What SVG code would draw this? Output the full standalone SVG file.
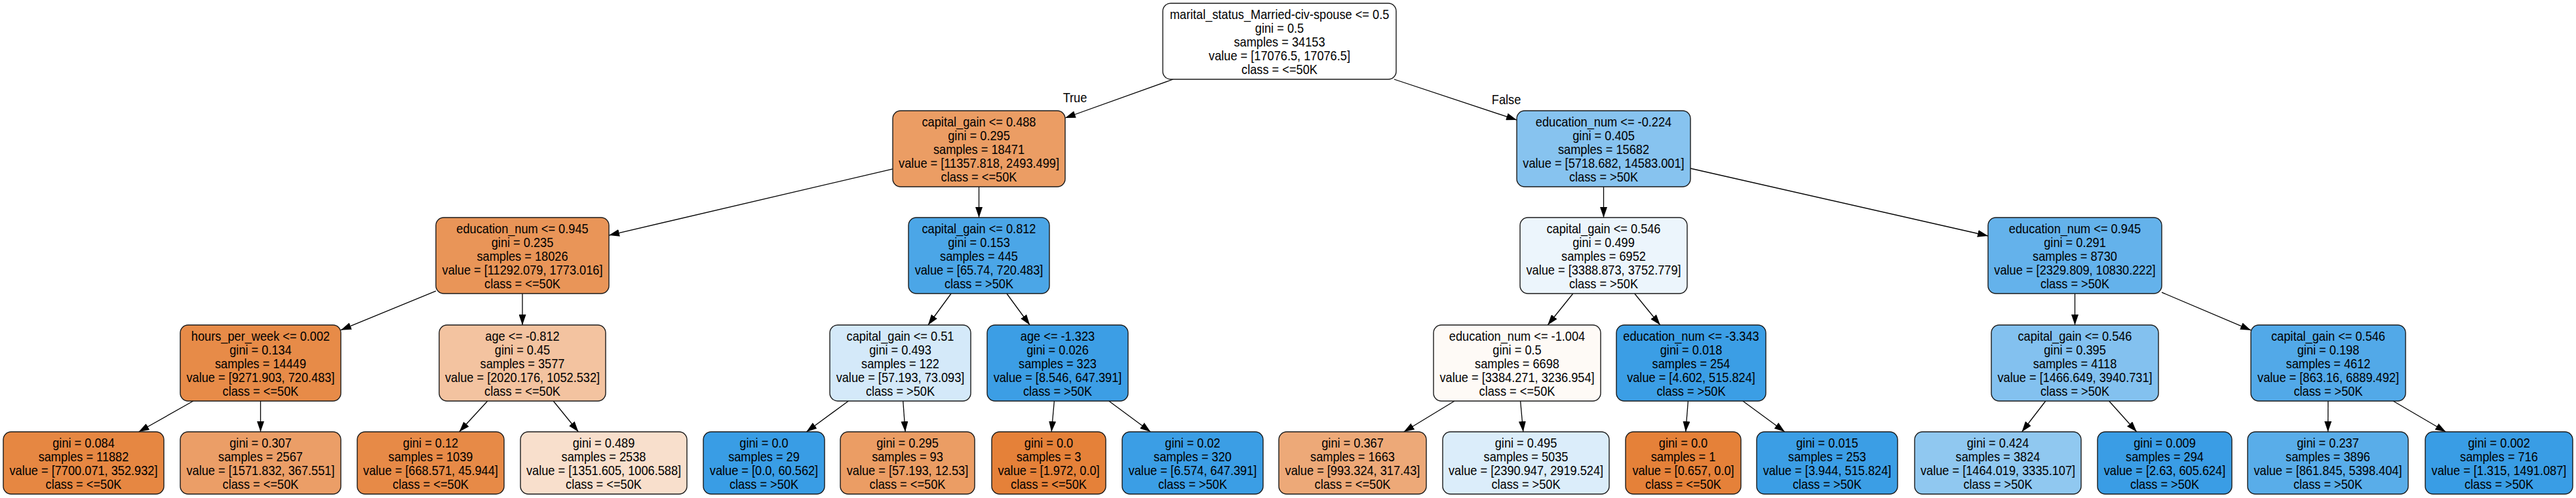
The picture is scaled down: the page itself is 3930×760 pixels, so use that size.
<svg xmlns="http://www.w3.org/2000/svg" width="3930" height="760" viewBox="0 0 3930 760">
<style>
rect{stroke:#1a1a1a;stroke-width:1.4}
text{font-family:"Liberation Sans",Arial,Helvetica,sans-serif;font-size:20px;fill:#000;text-anchor:middle}
.e line{stroke:#000;stroke-width:1.3;marker-end:url(#ah)}
</style>
<defs>
<marker id="ah" viewBox="0 0 16 11" refX="16" refY="5.5" markerWidth="16" markerHeight="11" markerUnits="userSpaceOnUse" orient="auto"><path d="M0,0 L16,5.5 L0,11 z" fill="#000"/></marker>
</defs>
<rect x="0" y="0" width="3930" height="760" fill="#fff" style="stroke:none"/>
<g id="edges" class="e">
<line x1="1789.8" y1="121" x2="1625" y2="180"/>
<line x1="2126.9" y1="121" x2="2314" y2="183.1"/>
<line x1="1362" y1="257.8" x2="929" y2="359.1"/>
<line x1="1493.5" y1="285" x2="1493.5" y2="332"/>
<line x1="2446.5" y1="285" x2="2446.5" y2="332"/>
<line x1="2579" y1="257" x2="3033" y2="360"/>
<line x1="665" y1="444.2" x2="520" y2="503.7"/>
<line x1="797" y1="448" x2="797" y2="496"/>
<line x1="1451.1" y1="448" x2="1415.9" y2="496"/>
<line x1="1535.9" y1="448" x2="1571.1" y2="496"/>
<line x1="2399.8" y1="448" x2="2361.2" y2="496"/>
<line x1="2493.7" y1="448" x2="2532.8" y2="496"/>
<line x1="3165.5" y1="448" x2="3165.5" y2="496"/>
<line x1="3298" y1="446.2" x2="3434" y2="503.9"/>
<line x1="294.8" y1="612" x2="211.6" y2="659"/>
<line x1="397.5" y1="612" x2="397.5" y2="659"/>
<line x1="743.8" y1="612" x2="700.6" y2="659"/>
<line x1="844.2" y1="612" x2="882.4" y2="659"/>
<line x1="1294.4" y1="612" x2="1230.3" y2="659"/>
<line x1="1377.7" y1="612" x2="1381.1" y2="659"/>
<line x1="1608.4" y1="612" x2="1604.2" y2="659"/>
<line x1="1691.8" y1="612" x2="1755.3" y2="659"/>
<line x1="2219" y1="612" x2="2141.7" y2="659"/>
<line x1="2319.6" y1="612" x2="2323.8" y2="659"/>
<line x1="2575.4" y1="612" x2="2571.7" y2="659"/>
<line x1="2658.9" y1="612" x2="2722.9" y2="659"/>
<line x1="3120.8" y1="612" x2="3084.6" y2="659"/>
<line x1="3217.6" y1="612" x2="3259.8" y2="659"/>
<line x1="3551.8" y1="612" x2="3551.6" y2="659"/>
<line x1="3651.1" y1="612" x2="3731.4" y2="659"/>
<text transform="translate(1640 0) scale(0.91 1)" x="0" y="156">True</text>
<text transform="translate(2298 0) scale(0.91 1)" x="0" y="159">False</text>
</g>
<g id="n0"><rect x="1774" y="5" width="356" height="116" rx="12" fill="#ffffff"/><text transform="translate(1952 0) scale(0.91 1)"><tspan x="0" y="29">marital_status_Married-civ-spouse &lt;= 0.5</tspan><tspan x="0" y="50">gini = 0.5</tspan><tspan x="0" y="71">samples = 34153</tspan><tspan x="0" y="92">value = [17076.5, 17076.5]</tspan><tspan x="0" y="113">class = &lt;=50K</tspan></text></g>
<g id="n1"><rect x="1362" y="169" width="263" height="116" rx="12" fill="#eb9d64"/><text transform="translate(1493.5 0) scale(0.91 1)"><tspan x="0" y="193">capital_gain &lt;= 0.488</tspan><tspan x="0" y="214">gini = 0.295</tspan><tspan x="0" y="235">samples = 18471</tspan><tspan x="0" y="256">value = [11357.818, 2493.499]</tspan><tspan x="0" y="277">class = &lt;=50K</tspan></text></g>
<g id="n2"><rect x="2314" y="169" width="265" height="116" rx="12" fill="#87c3ef"/><text transform="translate(2446.5 0) scale(0.91 1)"><tspan x="0" y="193">education_num &lt;= -0.224</tspan><tspan x="0" y="214">gini = 0.405</tspan><tspan x="0" y="235">samples = 15682</tspan><tspan x="0" y="256">value = [5718.682, 14583.001]</tspan><tspan x="0" y="277">class = &gt;50K</tspan></text></g>
<g id="n3"><rect x="665" y="332" width="264" height="116" rx="12" fill="#e99558"/><text transform="translate(797 0) scale(0.91 1)"><tspan x="0" y="356">education_num &lt;= 0.945</tspan><tspan x="0" y="377">gini = 0.235</tspan><tspan x="0" y="398">samples = 18026</tspan><tspan x="0" y="419">value = [11292.079, 1773.016]</tspan><tspan x="0" y="440">class = &lt;=50K</tspan></text></g>
<g id="n4"><rect x="1386" y="332" width="215" height="116" rx="12" fill="#4ba6e7"/><text transform="translate(1493.5 0) scale(0.91 1)"><tspan x="0" y="356">capital_gain &lt;= 0.812</tspan><tspan x="0" y="377">gini = 0.153</tspan><tspan x="0" y="398">samples = 445</tspan><tspan x="0" y="419">value = [65.74, 720.483]</tspan><tspan x="0" y="440">class = &gt;50K</tspan></text></g>
<g id="n5"><rect x="2319" y="332" width="255" height="116" rx="12" fill="#ecf5fc"/><text transform="translate(2446.5 0) scale(0.91 1)"><tspan x="0" y="356">capital_gain &lt;= 0.546</tspan><tspan x="0" y="377">gini = 0.499</tspan><tspan x="0" y="398">samples = 6952</tspan><tspan x="0" y="419">value = [3388.873, 3752.779]</tspan><tspan x="0" y="440">class = &gt;50K</tspan></text></g>
<g id="n6"><rect x="3033" y="332" width="265" height="116" rx="12" fill="#64b2eb"/><text transform="translate(3165.5 0) scale(0.91 1)"><tspan x="0" y="356">education_num &lt;= 0.945</tspan><tspan x="0" y="377">gini = 0.291</tspan><tspan x="0" y="398">samples = 8730</tspan><tspan x="0" y="419">value = [2329.809, 10830.222]</tspan><tspan x="0" y="440">class = &gt;50K</tspan></text></g>
<g id="n7"><rect x="275" y="496" width="245" height="116" rx="12" fill="#e78b48"/><text transform="translate(397.5 0) scale(0.91 1)"><tspan x="0" y="520">hours_per_week &lt;= 0.002</tspan><tspan x="0" y="541">gini = 0.134</tspan><tspan x="0" y="562">samples = 14449</tspan><tspan x="0" y="583">value = [9271.903, 720.483]</tspan><tspan x="0" y="604">class = &lt;=50K</tspan></text></g>
<g id="n8"><rect x="670" y="496" width="254" height="116" rx="12" fill="#f3c3a0"/><text transform="translate(797 0) scale(0.91 1)"><tspan x="0" y="520">age &lt;= -0.812</tspan><tspan x="0" y="541">gini = 0.45</tspan><tspan x="0" y="562">samples = 3577</tspan><tspan x="0" y="583">value = [2020.176, 1052.532]</tspan><tspan x="0" y="604">class = &lt;=50K</tspan></text></g>
<g id="n9"><rect x="1266" y="496" width="215" height="116" rx="12" fill="#d4e9f9"/><text transform="translate(1373.5 0) scale(0.91 1)"><tspan x="0" y="520">capital_gain &lt;= 0.51</tspan><tspan x="0" y="541">gini = 0.493</tspan><tspan x="0" y="562">samples = 122</tspan><tspan x="0" y="583">value = [57.193, 73.093]</tspan><tspan x="0" y="604">class = &gt;50K</tspan></text></g>
<g id="n10"><rect x="1506" y="496" width="215" height="116" rx="12" fill="#3c9ee5"/><text transform="translate(1613.5 0) scale(0.91 1)"><tspan x="0" y="520">age &lt;= -1.323</tspan><tspan x="0" y="541">gini = 0.026</tspan><tspan x="0" y="562">samples = 323</tspan><tspan x="0" y="583">value = [8.546, 647.391]</tspan><tspan x="0" y="604">class = &gt;50K</tspan></text></g>
<g id="n11"><rect x="2187" y="496" width="255" height="116" rx="12" fill="#fefaf6"/><text transform="translate(2314.5 0) scale(0.91 1)"><tspan x="0" y="520">education_num &lt;= -1.004</tspan><tspan x="0" y="541">gini = 0.5</tspan><tspan x="0" y="562">samples = 6698</tspan><tspan x="0" y="583">value = [3384.271, 3236.954]</tspan><tspan x="0" y="604">class = &lt;=50K</tspan></text></g>
<g id="n12"><rect x="2466" y="496" width="228" height="116" rx="12" fill="#3b9ee5"/><text transform="translate(2580 0) scale(0.91 1)"><tspan x="0" y="520">education_num &lt;= -3.343</tspan><tspan x="0" y="541">gini = 0.018</tspan><tspan x="0" y="562">samples = 254</tspan><tspan x="0" y="583">value = [4.602, 515.824]</tspan><tspan x="0" y="604">class = &gt;50K</tspan></text></g>
<g id="n13"><rect x="3038" y="496" width="255" height="116" rx="12" fill="#83c1ef"/><text transform="translate(3165.5 0) scale(0.91 1)"><tspan x="0" y="520">capital_gain &lt;= 0.546</tspan><tspan x="0" y="541">gini = 0.395</tspan><tspan x="0" y="562">samples = 4118</tspan><tspan x="0" y="583">value = [1466.649, 3940.731]</tspan><tspan x="0" y="604">class = &gt;50K</tspan></text></g>
<g id="n14"><rect x="3434" y="496" width="236" height="116" rx="12" fill="#52a9e8"/><text transform="translate(3552 0) scale(0.91 1)"><tspan x="0" y="520">capital_gain &lt;= 0.546</tspan><tspan x="0" y="541">gini = 0.198</tspan><tspan x="0" y="562">samples = 4612</tspan><tspan x="0" y="583">value = [863.16, 6889.492]</tspan><tspan x="0" y="604">class = &gt;50K</tspan></text></g>
<g id="n15"><rect x="5" y="659" width="245" height="95" rx="12" fill="#e68742"/><text transform="translate(127.5 0) scale(0.91 1)"><tspan x="0" y="683">gini = 0.084</tspan><tspan x="0" y="704">samples = 11882</tspan><tspan x="0" y="725">value = [7700.071, 352.932]</tspan><tspan x="0" y="746">class = &lt;=50K</tspan></text></g>
<g id="n16"><rect x="275" y="659" width="245" height="95" rx="12" fill="#eb9e67"/><text transform="translate(397.5 0) scale(0.91 1)"><tspan x="0" y="683">gini = 0.307</tspan><tspan x="0" y="704">samples = 2567</tspan><tspan x="0" y="725">value = [1571.832, 367.551]</tspan><tspan x="0" y="746">class = &lt;=50K</tspan></text></g>
<g id="n17"><rect x="545" y="659" width="224" height="95" rx="12" fill="#e78a47"/><text transform="translate(657 0) scale(0.91 1)"><tspan x="0" y="683">gini = 0.12</tspan><tspan x="0" y="704">samples = 1039</tspan><tspan x="0" y="725">value = [668.571, 45.944]</tspan><tspan x="0" y="746">class = &lt;=50K</tspan></text></g>
<g id="n18"><rect x="794" y="659" width="254" height="95" rx="12" fill="#f8dfcc"/><text transform="translate(921 0) scale(0.91 1)"><tspan x="0" y="683">gini = 0.489</tspan><tspan x="0" y="704">samples = 2538</tspan><tspan x="0" y="725">value = [1351.605, 1006.588]</tspan><tspan x="0" y="746">class = &lt;=50K</tspan></text></g>
<g id="n19"><rect x="1073" y="659" width="185" height="95" rx="12" fill="#399de5"/><text transform="translate(1165.5 0) scale(0.91 1)"><tspan x="0" y="683">gini = 0.0</tspan><tspan x="0" y="704">samples = 29</tspan><tspan x="0" y="725">value = [0.0, 60.562]</tspan><tspan x="0" y="746">class = &gt;50K</tspan></text></g>
<g id="n20"><rect x="1282" y="659" width="205" height="95" rx="12" fill="#eb9d64"/><text transform="translate(1384.5 0) scale(0.91 1)"><tspan x="0" y="683">gini = 0.295</tspan><tspan x="0" y="704">samples = 93</tspan><tspan x="0" y="725">value = [57.193, 12.53]</tspan><tspan x="0" y="746">class = &lt;=50K</tspan></text></g>
<g id="n21"><rect x="1513" y="659" width="174" height="95" rx="12" fill="#e58139"/><text transform="translate(1600 0) scale(0.91 1)"><tspan x="0" y="683">gini = 0.0</tspan><tspan x="0" y="704">samples = 3</tspan><tspan x="0" y="725">value = [1.972, 0.0]</tspan><tspan x="0" y="746">class = &lt;=50K</tspan></text></g>
<g id="n22"><rect x="1712" y="659" width="215" height="95" rx="12" fill="#3b9ee5"/><text transform="translate(1819.5 0) scale(0.91 1)"><tspan x="0" y="683">gini = 0.02</tspan><tspan x="0" y="704">samples = 320</tspan><tspan x="0" y="725">value = [6.574, 647.391]</tspan><tspan x="0" y="746">class = &gt;50K</tspan></text></g>
<g id="n23"><rect x="1951" y="659" width="225" height="95" rx="12" fill="#eda978"/><text transform="translate(2063.5 0) scale(0.91 1)"><tspan x="0" y="683">gini = 0.367</tspan><tspan x="0" y="704">samples = 1663</tspan><tspan x="0" y="725">value = [993.324, 317.43]</tspan><tspan x="0" y="746">class = &lt;=50K</tspan></text></g>
<g id="n24"><rect x="2201" y="659" width="254" height="95" rx="12" fill="#dbedfa"/><text transform="translate(2328 0) scale(0.91 1)"><tspan x="0" y="683">gini = 0.495</tspan><tspan x="0" y="704">samples = 5035</tspan><tspan x="0" y="725">value = [2390.947, 2919.524]</tspan><tspan x="0" y="746">class = &gt;50K</tspan></text></g>
<g id="n25"><rect x="2480" y="659" width="176" height="95" rx="12" fill="#e58139"/><text transform="translate(2568 0) scale(0.91 1)"><tspan x="0" y="683">gini = 0.0</tspan><tspan x="0" y="704">samples = 1</tspan><tspan x="0" y="725">value = [0.657, 0.0]</tspan><tspan x="0" y="746">class = &lt;=50K</tspan></text></g>
<g id="n26"><rect x="2680" y="659" width="215" height="95" rx="12" fill="#3b9ee5"/><text transform="translate(2787.5 0) scale(0.91 1)"><tspan x="0" y="683">gini = 0.015</tspan><tspan x="0" y="704">samples = 253</tspan><tspan x="0" y="725">value = [3.944, 515.824]</tspan><tspan x="0" y="746">class = &gt;50K</tspan></text></g>
<g id="n27"><rect x="2921" y="659" width="254" height="95" rx="12" fill="#90c8f0"/><text transform="translate(3048 0) scale(0.91 1)"><tspan x="0" y="683">gini = 0.424</tspan><tspan x="0" y="704">samples = 3824</tspan><tspan x="0" y="725">value = [1464.019, 3335.107]</tspan><tspan x="0" y="746">class = &gt;50K</tspan></text></g>
<g id="n28"><rect x="3200" y="659" width="205" height="95" rx="12" fill="#3a9de5"/><text transform="translate(3302.5 0) scale(0.91 1)"><tspan x="0" y="683">gini = 0.009</tspan><tspan x="0" y="704">samples = 294</tspan><tspan x="0" y="725">value = [2.63, 605.624]</tspan><tspan x="0" y="746">class = &gt;50K</tspan></text></g>
<g id="n29"><rect x="3429" y="659" width="245" height="95" rx="12" fill="#59ade9"/><text transform="translate(3551.5 0) scale(0.91 1)"><tspan x="0" y="683">gini = 0.237</tspan><tspan x="0" y="704">samples = 3896</tspan><tspan x="0" y="725">value = [861.845, 5398.404]</tspan><tspan x="0" y="746">class = &gt;50K</tspan></text></g>
<g id="n30"><rect x="3700" y="659" width="225" height="95" rx="12" fill="#399de5"/><text transform="translate(3812.5 0) scale(0.91 1)"><tspan x="0" y="683">gini = 0.002</tspan><tspan x="0" y="704">samples = 716</tspan><tspan x="0" y="725">value = [1.315, 1491.087]</tspan><tspan x="0" y="746">class = &gt;50K</tspan></text></g>
</svg>
